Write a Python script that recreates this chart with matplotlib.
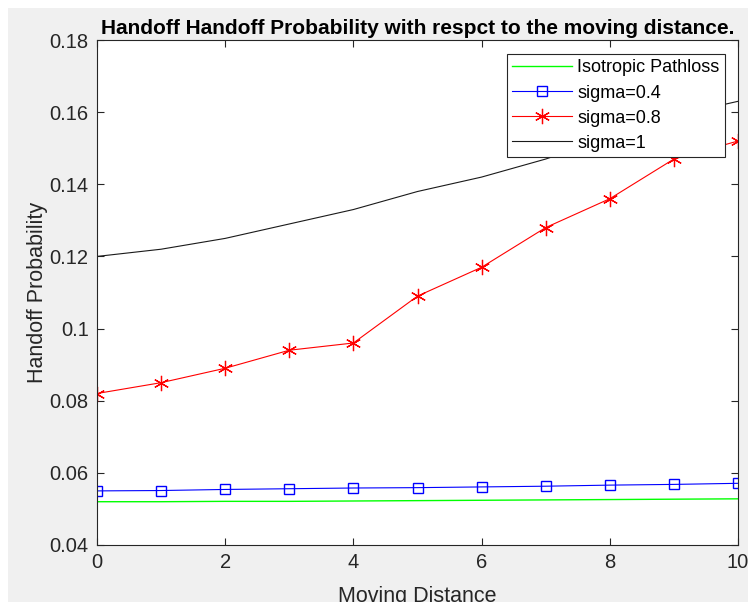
import numpy as np
import matplotlib
matplotlib.use('Agg')
import matplotlib.pyplot as plt
from matplotlib.patches import Rectangle

plt.rcParams['font.family'] = ['Liberation Sans', 'DejaVu Sans']

# data
distance = [0, 1, 2, 3, 4, 5, 6, 7, 8, 9, 10]
isotropic = [0.0520, 0.0520, 0.0521, 0.0521, 0.0522, 0.0523, 0.0524, 0.0525, 0.0526, 0.0527, 0.0528]
sigma04 = [0.0550, 0.0551, 0.0554, 0.0556, 0.0558, 0.0559, 0.0561, 0.0563, 0.0566, 0.0568, 0.0571]
sigma08 = [0.082, 0.085, 0.089, 0.094, 0.096, 0.109, 0.117, 0.128, 0.136, 0.147, 0.152]
sigma1 = [0.120, 0.122, 0.125, 0.129, 0.133, 0.138, 0.142, 0.147, 0.153, 0.159, 0.163]

xticks = [0, 2, 4, 6, 8, 10]
yticks = [0.04, 0.06, 0.08, 0.1, 0.12, 0.14, 0.16, 0.18]
ytick_labels = ['0.04', '0.06', '0.08', '0.1', '0.12', '0.14', '0.16', '0.18']

fig = plt.figure(figsize=(7.48, 6.02), dpi=100)
fig.patch.set_facecolor('white')
# matlab-ish gray window background, shifted a bit like the screenshot
fig.patches.append(Rectangle((8 / 748, 0), 1, 1 - 8 / 602, transform=fig.transFigure,
                             facecolor='#f0f0f0', edgecolor='none', zorder=-10))

ax = fig.add_axes([97 / 748, 1 - 545 / 602, (738 - 97) / 748, (545 - 40) / 602])
ax.set_facecolor('white')

ax.plot(distance, isotropic, color='#00ff00', lw=1.0, label='Isotropic Pathloss')
ax.plot(distance, sigma04, color='#0000ff', lw=0.8, marker='s', markersize=6.5,
        markerfacecolor='none', markeredgewidth=1.0, label='sigma=0.4')
# matlab style asterisk marker
ax.plot(distance, sigma08, color='#ff0000', lw=0.8, marker=(6, 2, 0), markersize=11,
        markeredgewidth=0.9, label='sigma=0.8')
ax.plot(distance, sigma1, color='#1a1a1a', lw=0.8, label='sigma=1')

ax.set_xlim(0, 10)
ax.set_ylim(0.04, 0.18)
ax.set_xticks(xticks)
ax.set_yticks(yticks)
ax.set_yticklabels(ytick_labels)
ax.tick_params(direction='in', labelsize=14.5, colors='#262626', length=5, width=0.8,
               top=True, right=True, pad=6)
for s in ax.spines.values():
    s.set_color('#262626')
    s.set_linewidth(0.8)

ax.set_xlabel('Moving Distance', fontsize=15.5, color='#262626', labelpad=10)
ax.set_ylabel('Handoff Probability', fontsize=15.5, color='#262626', labelpad=1)
ax.set_title('Handoff Handoff Probability with respct to the moving distance.',
             fontsize=15, fontweight='bold', pad=4)

leg = ax.legend(loc='upper left', bbox_to_anchor=(410 / 641, 1 - 14 / 505), fontsize=13,
                fancybox=False, framealpha=1, edgecolor='#262626',
                handlelength=3.3, borderpad=0.3, labelspacing=0.45, handletextpad=0.3,
                borderaxespad=0)
leg.get_frame().set_linewidth(0.8)

fig.savefig('out.png', dpi=100, facecolor=fig.get_facecolor())
